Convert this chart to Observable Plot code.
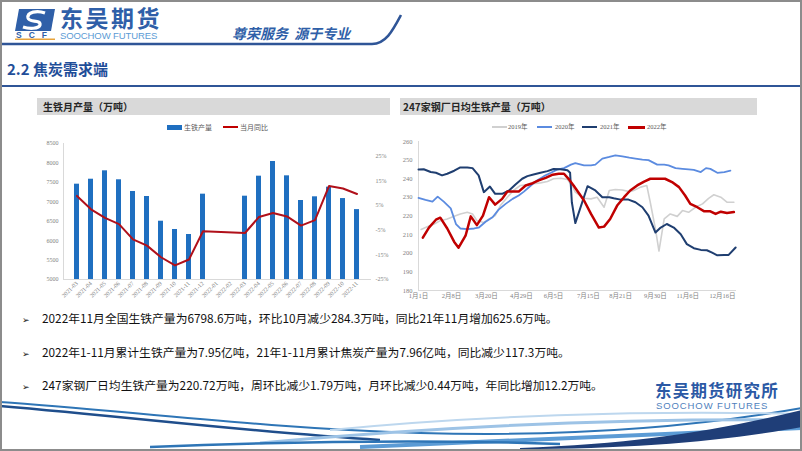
<!DOCTYPE html>
<html><head><meta charset="utf-8">
<script src="https://cdn.jsdelivr.net/npm/d3@7"></script>
<script src="https://cdn.jsdelivr.net/npm/@observablehq/plot@0.6"></script>
<style>
html,body{margin:0;padding:0}
body{width:802px;height:451px;overflow:hidden;background:#fff;position:relative;font-family:"Noto Sans CJK SC","Noto Sans",sans-serif}
.abs{position:absolute;white-space:nowrap}
.bar{position:absolute;background:#d9d9d9;height:17px}
.bar span{position:absolute;left:6px;top:1px;font-size:10px;font-weight:bold;color:#262626;line-height:15px}
.leg{position:absolute;font-size:7px;color:#595959;line-height:8px;white-space:nowrap}
.leg2{position:absolute;font-size:6.5px;color:#595959;line-height:8px;white-space:nowrap;font-family:"Liberation Serif","Noto Sans CJK SC",serif}
.sw{position:absolute}
.bul{position:absolute;left:22px;font-size:11.8px;color:#111;line-height:14px;white-space:nowrap}
.bul b{font-family:"DejaVu Sans";font-weight:normal;font-size:9px;display:inline-block;width:20px}
</style></head><body>
<svg class="abs" style="left:0;top:0" width="802" height="451">
  <!-- logo icon -->
  <g transform="translate(15,7)">
    <path d="M4,2 L40,2 L36,24 L0,24 Z" fill="#2F5FA8"/>
    <path d="M30,6 C22,3 12,5 13,11 C14,16 26,12 25,18 C24,22 14,22 8,20" fill="none" stroke="#fff" stroke-width="3.2"/>
    <text x="1" y="31" font-family="Liberation Sans" font-weight="bold" font-size="8.5" fill="#2F5FA8" letter-spacing="7">SCF</text>
    <rect x="0" y="31.5" width="40" height="1.5" fill="#E8A33B"/>
  </g>
  <path d="M0,44 L372,44 C386,44 393,30 401,15" fill="none" stroke="#2F5597" stroke-width="2.5"/>
  <line x1="0" y1="86" x2="802" y2="86" stroke="#2F5597" stroke-width="2"/>
  <!-- bottom swooshes -->
  <path d="M0,402 C120,410 260,428 420,433 C560,437 690,428 802,408" fill="none" stroke="#2E75B6" stroke-width="2"/>
  <path d="M0,406 C140,418 250,432 380,440" fill="none" stroke="#1F4E8C" stroke-width="2.5"/>
  <path d="M260,443 C420,428 600,418 802,420" fill="none" stroke="#9DC3E6" stroke-width="3"/>
  <path d="M330,430 C470,416 640,410 802,414" fill="none" stroke="#BDD7EE" stroke-width="2"/>
  <path d="M360,447 C540,440 690,432 802,428" fill="none" stroke="#5B9BD5" stroke-width="4"/>
  <path d="M520,448 C640,444 720,430 802,410 L802,427 C730,440 640,449 520,449 Z" fill="#1F3E78"/>
  <path d="M150,447 C300,441 450,440 560,444" fill="none" stroke="#2E75B6" stroke-width="2.5"/>
</svg>
<div class="abs" style="left:0;top:0;width:798px;height:447px;border:2px solid #8c8c8c"></div>

<div class="abs" style="left:60px;top:5px;font-size:23px;line-height:24px;font-weight:bold;color:#2F5FA8;letter-spacing:2.5px">东吴期货</div>
<div class="abs" style="left:60px;top:32px;font-size:9.5px;line-height:8px;color:#5B9BD5;font-family:'Liberation Sans';letter-spacing:-0.1px">SOOCHOW FUTURES</div>
<div class="abs" style="left:232px;top:23px;font-size:14px;font-weight:bold;font-style:italic;color:#2F5FA8">尊荣服务 &nbsp;源于专业</div>
<div class="abs" style="left:7px;top:58px;font-size:15px;font-weight:bold;color:#1F4E99">2.2 焦炭需求端</div>

<div class="bar" style="left:37px;top:98px;width:353px"><span>生铁月产量（万吨）</span></div>
<div class="bar" style="left:400px;top:98px;width:357px"><span style="left:3px">247家钢厂日均生铁产量（万吨）</span></div>

<!-- left legend -->
<div class="sw" style="left:167px;top:125px;width:15px;height:5px;background:#1F6FC0"></div>
<div class="leg" style="left:184px;top:123px">生铁产量</div>
<div class="sw" style="left:223px;top:126px;width:15px;height:2px;background:#C00000"></div>
<div class="leg" style="left:240px;top:123px">当月同比</div>
<!-- right legend -->
<div class="sw" style="left:492px;top:126px;width:15px;height:1.5px;background:#D0D0D0"></div>
<div class="leg2" style="left:508px;top:123px">2019年</div>
<div class="sw" style="left:537px;top:126px;width:15px;height:2px;background:#5B8BE0"></div>
<div class="leg2" style="left:555px;top:123px">2020年</div>
<div class="sw" style="left:582px;top:126px;width:15px;height:2px;background:#1F3E70"></div>
<div class="leg2" style="left:600px;top:123px">2021年</div>
<div class="sw" style="left:628px;top:125.5px;width:17px;height:3px;background:#C00000"></div>
<div class="leg2" style="left:647px;top:123px">2022年</div>

<div id="leftChart" class="abs" style="left:30px;top:136px"></div>
<div id="rightChart" class="abs" style="left:398px;top:136px"></div>

<div class="bul" style="top:311px"><b>➢</b>2022年11月全国生铁产量为6798.6万吨，环比10月减少284.3万吨，同比21年11月增加625.6万吨。</div>
<div class="bul" style="top:345px"><b>➢</b>2022年1-11月累计生铁产量为7.95亿吨，21年1-11月累计焦炭产量为7.96亿吨，同比减少117.3万吨。</div>
<div class="bul" style="top:378px"><b>➢</b>247家钢厂日均生铁产量为220.72万吨，周环比减少1.79万吨，月环比减少0.44万吨，年同比增加12.2万吨。</div>

<div class="abs" style="left:655px;top:382px;font-size:16.5px;line-height:17px;font-weight:bold;color:#2B59A5;letter-spacing:1.2px">东吴期货研究所</div>
<div class="abs" style="left:656px;top:402px;font-size:9.5px;line-height:8px;color:#4F81BD;font-family:'Liberation Sans';letter-spacing:0.9px">SOOCHOW FUTURES</div>

<script>
// ---------- Left chart data: monthly pig iron output ----------
const months = ["2021-03","2021-04","2021-05","2021-06","2021-07","2021-08","2021-09","2021-10","2021-11","2021-12","2022-01","2022-02","2022-03","2022-04","2022-05","2022-06","2022-07","2022-08","2022-09","2022-10","2022-11"];
const ironOutput = [7453,7581,7797,7566,7265,7136,6500,6287,6158,7196,null,null,7144,7659,8037,7668,7033,7128,7376,7083,6799];
const yoyPct = [8.8,3.4,-0.1,-2.6,-8.8,-11.3,-16.0,-19.3,-16.9,-5.5,null,null,-6.2,0.3,1.9,0.5,-3.2,-1.0,12.8,11.8,9.6];
const leftTicks = [5000,5500,6000,6500,7000,7500,8000,8500];
const pctTicks = [-25,-15,-5,5,15,25];

// ---------- Right chart data: 247 mills daily pig iron (day of year, value) ----------
const days2019 = [3,10,18,25,33,41,48,56,62,67,75,81,88,94,102,109,117,125,132,140,148,155,163,171,176,180,190,198,205,213,219,226,234,242,247,255,262,266,272,276,282,289,297,303,310,318,326,333,339,347,354,362];
const vals2019 = [212.8,214.2,215.7,217.5,218.4,219.8,221.1,222,221.1,217.5,216.5,218.4,220.2,225.6,230.1,233.7,236.4,236.8,237.3,237.8,238.5,240,240.3,239.6,236.4,232.8,229.5,229.2,230.1,224.7,233.7,234.2,234,233.1,233.7,235.5,236.4,227.4,213,201.2,218.4,221.1,219.8,222.9,222,224.7,226.5,229.5,231.4,230.1,227.4,227.4];
const days2020 = [0,8,16,22,29,37,43,48,56,64,69,77,85,92,100,108,115,121,129,136,144,152,159,167,175,180,190,198,203,211,219,226,234,242,249,257,264,274,282,287,295,303,310,316,324,330,335,343,351,358];
const vals2020 = [229.7,228.6,227.7,230.4,227.7,224.1,215.7,213.3,213,213.3,213.7,216.9,219.3,223.4,226.5,229.2,231,233.1,236.4,239.1,241.4,243.2,244.9,245.7,247.6,248.4,247.2,247.2,247.6,250.8,251.7,252.6,252,251.3,250.8,250.3,250,247.6,247.6,247.2,245.7,245.3,245,244.8,243.6,245.7,245.3,243.2,243.6,244.3];
const days2021 = [0,6,14,20,27,33,41,48,56,62,69,75,82,88,96,104,111,119,125,132,140,148,155,163,171,174,176,180,194,203,211,219,224,232,241,249,257,264,272,278,285,293,301,308,316,324,331,337,343,351,356,364];
const vals2021 = [245,245.1,243.6,243.2,241.8,242.7,244.3,246.1,246.1,245.7,241.8,232.8,235.8,231.9,231.9,233.7,236.8,240,241.4,242.3,243.2,244.1,245.2,245.1,244.6,243.2,227.4,216.2,236,233.7,230.1,230.1,229.5,228.8,228.8,227.4,224.7,220.2,211.1,213.8,215.7,213.8,210.2,204.9,202.7,201.8,201.6,200.3,198.9,199.1,199.1,203.1];
const days2022 = [5,12,20,25,33,41,46,54,60,67,74,81,88,96,102,109,115,123,131,138,146,154,161,167,173,178,182,190,198,207,213,220,228,236,243,251,259,266,276,283,291,299,306,312,320,328,335,341,347,354,362];
const vals2022 = [208.4,213.8,218,219.1,213.3,206.1,203,209.4,219.8,215.1,220.2,230.1,226.1,229.2,233.1,233.1,233.1,236.4,237.6,239.1,240.5,242.2,242.7,242.7,239.5,236.4,233.7,228.3,221.1,213.8,214.3,218.4,225.6,230.1,233.7,236.4,238.5,240,240,240,238.2,235.5,231,226.5,224.7,222.5,222.5,221.1,222.3,221.6,222.1];
const rightTicks = [180,190,200,210,220,230,240,250,260];
const dayTicks = [0,38,78,118,155,195,232,272,309,349];
const dayLabels = ["1月1日","2月8日","3月20日","4月29日","6月5日","7月15日","8月21日","9月30日","11月6日","12月16日"];

// ---------- Left chart ----------
const toLeft = p => 5000 + (p + 25) * 3500 / 55;
const monthly = months.map((m, i) => ({m, v: ironOutput[i], p: yoyPct[i]}));
const serif = "'Liberation Serif','Noto Sans CJK SC',serif";
const leftAxisLine = (index, scales, values, dims) => {
  const g = d3.create("svg:g");
  g.append("line").attr("x1", dims.marginLeft + 0.5).attr("x2", dims.marginLeft + 0.5)
    .attr("y1", dims.marginTop).attr("y2", dims.height - dims.marginBottom).attr("stroke", "#d9d9d9");
  g.append("line").attr("x1", dims.marginLeft).attr("x2", dims.width - dims.marginRight)
    .attr("y1", dims.height - dims.marginBottom + 0.5).attr("y2", dims.height - dims.marginBottom + 0.5).attr("stroke", "#d9d9d9");
  return g.node();
};
const left = Plot.plot({
  width: 362, height: 172, marginLeft: 33, marginRight: 21, marginTop: 7, marginBottom: 29,
  style: {fontFamily: serif, fontSize: "6px", color: "#7f7f7f", background: "transparent", overflow: "visible"},
  x: {type: "band", domain: months, paddingInner: 0.61, paddingOuter: 0.25, label: null},
  y: {domain: [5000, 8500], label: null},
  marks: [
    leftAxisLine,
    Plot.barY(monthly.filter(d => d.v != null), {x: "m", y1: 5000, y2: "v", fill: "#1F6FC0"}),
    Plot.line(monthly.filter(d => d.p != null), {x: "m", y: d => toLeft(d.p), stroke: "#B0101A", strokeWidth: 2}),
    Plot.axisY({ticks: leftTicks, tickSize: 0, tickPadding: 5, label: null, tickFormat: d => String(d)}),
    Plot.axisY({anchor: "right", ticks: pctTicks.map(toLeft), tickSize: 0, tickPadding: 4, label: null,
      tickFormat: v => Math.round((v - 5000) * 55 / 3500 - 25) + "%"}),
    Plot.axisX({tickRotate: -45, tickSize: 0, tickPadding: 3, label: null})
  ]
});
document.getElementById("leftChart").appendChild(left);

// ---------- Right chart ----------
const mk = (days, vals) => days.map((d, i) => ({d, v: vals[i]}));
const labelMap = new Map(dayTicks.map((d, i) => [d, dayLabels[i]]));
const right = Plot.plot({
  width: 345, height: 172, marginLeft: 20, marginRight: 7, marginTop: 5, marginBottom: 18,
  style: {fontFamily: serif, fontSize: "6.5px", color: "#7f7f7f", background: "transparent", overflow: "visible"},
  x: {domain: [0, 365], label: null},
  y: {domain: [180, 260], label: null},
  marks: [
    Plot.ruleX([0], {stroke: "#d9d9d9"}),
    Plot.ruleY([180], {stroke: "#d9d9d9"}),
    Plot.axisY({ticks: rightTicks, tickSize: 0, tickPadding: 6, label: null}),
    Plot.axisX({ticks: dayTicks, tickSize: 0, tickPadding: 3, label: null, tickFormat: d => labelMap.get(d)}),
    Plot.line(mk(days2019, vals2019), {x: "d", y: "v", stroke: "#D0D0D0", strokeWidth: 1.6}),
    Plot.line(mk(days2020, vals2020), {x: "d", y: "v", stroke: "#5B8BE0", strokeWidth: 1.8}),
    Plot.line(mk(days2021, vals2021), {x: "d", y: "v", stroke: "#1F3E70", strokeWidth: 2}),
    Plot.line(mk(days2022, vals2022), {x: "d", y: "v", stroke: "#C00000", strokeWidth: 2.5})
  ]
});
document.getElementById("rightChart").appendChild(right);
</script>
</body></html>
